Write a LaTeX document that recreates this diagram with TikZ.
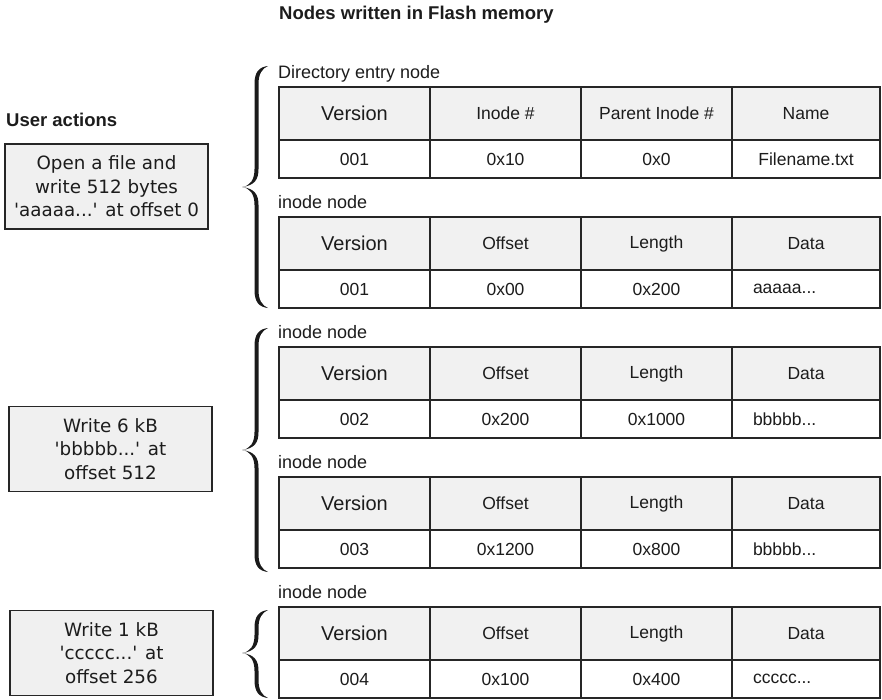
\documentclass[tikz,border=0pt]{standalone}
\usepackage{fontspec}
\setmainfont{Liberation Sans}
\newfontfamily\dejavu{DejaVu Sans}[Ligatures=TeXOff]
\definecolor{linecol}{HTML}{262626}
\definecolor{txtcol}{HTML}{1C1C1C}
\definecolor{hdrfill}{HTML}{F1F1F1}
\definecolor{boxfill}{HTML}{F0F0F0}
\definecolor{bracecol}{HTML}{1A1A1A}
\tikzset{
  cellbase/.style={draw=linecol, line width=1.2pt, inner sep=0pt, text=txtcol,
    font=\fontsize{17.5}{20}\selectfont},
  hcell/.style={cellbase, fill=hdrfill, minimum height=53},
  rcell/.style={cellbase, fill=white, minimum height=38},
  verfont/.style={font=\fontsize{20}{22}\selectfont},
  leftdata/.style={text width=106, align=left},
  ubox/.style={draw=linecol, line width=1.3pt, fill=boxfill, align=center, text=txtcol,
    font=\dejavu\fontsize{18.3}{23.5}\selectfont, minimum width=203, minimum height=85, inner sep=0pt},
  lab/.style={anchor=base west, inner sep=0pt, text=txtcol, font=\fontsize{18}{20}\selectfont},
  boldlab/.style={anchor=base west, inner sep=0pt, text=txtcol, font=\bfseries\fontsize{18.5}{20}\selectfont}
}
% header row: prefix, top, label text, h2, h3, h4
\newcommand\fhead[6]{%
  \node[lab] (#1lab) at (278,{#2-8.5}) {#3};
  \node[hcell, verfont, minimum width=151] (#1h1) at (354.5,{#2+26.5}) {Version};
  \node[hcell, minimum width=151] (#1h2) at (505.5,{#2+26.5}) {#4};
  \node[hcell, minimum width=151] (#1h3) at (656.5,{#2+26.5}) {#5};
  \node[hcell, minimum width=148] (#1h4) at (806,{#2+26.5}) {#6};
}
% value row: prefix, top, v1, v2, v3, v4, options of last cell
\newcommand\frow[7]{%
  \node[rcell, minimum width=151] (#1r1) at (354.5,{#2+72}) {#3};
  \node[rcell, minimum width=151] (#1r2) at (505.5,{#2+72}) {#4};
  \node[rcell, minimum width=151] (#1r3) at (656.5,{#2+72}) {#5};
  \node[rcell, minimum width=148, #7] (#1r4) at (806,{#2+72}) {#6};
}
% brace: top y, tip y, bottom y
\newcommand\fbrace[3]{%
  \fill[bracecol] (268,#1)
   .. controls (259,{#1+1}) and (254.5,{#1+6}) .. (254.5,{#1+18})
   -- (254.5,{#2-18})
   .. controls (254.5,{#2-7}) and (250,{#2-1}) .. (242,#2)
   .. controls (250,{#2+1}) and (254.5,{#2+7}) .. (254.5,{#2+18})
   -- (254.5,{#3-18})
   .. controls (254.5,{#3-6}) and (259,{#3-1}) .. (268,#3)
   .. controls (262,{#3-2.5}) and (258.5,{#3-8}) .. (258.5,{#3-18})
   -- (258.5,{#2+18})
   .. controls (258.5,{#2+8}) and (255,{#2+1.5}) .. (242,#2)
   .. controls (255,{#2-1.5}) and (258.5,{#2-8}) .. (258.5,{#2-18})
   -- (258.5,{#1+18})
   .. controls (258.5,{#1+8}) and (262,{#1+2.5}) .. (268,#1) -- cycle;
}
\begin{document}
\begin{tikzpicture}[x=1pt,y=-1pt]
\useasboundingbox (0,0) rectangle (882,699);

\node[boldlab] (title) at (279,19) {Nodes written in Flash memory};
\node[boldlab] (useract) at (6,126) {User actions};

\node[ubox] (act1) at (106.5,186.5) {Open a file and\\write 512 bytes\\'aaaaa...' at offset 0};
\node[ubox] (act2) at (110.5,449) {Write 6 kB\\'bbbbb...' at\\offset 512};
\node[ubox] (act3) at (111.5,653) {Write 1 kB\\'ccccc...' at\\offset 256};

\fbrace{66}{187}{308}
\fbrace{328}{450}{572}
\fbrace{610}{653}{698}

\fhead{ta}{87}{Directory entry node}{Inode \#}{Parent Inode \#}{Name}
\frow{ta}{87}{001}{0x10}{0x0}{Filename.txt}{}

\fhead{tb}{217}{inode node}{Offset}{Length}{Data}
\frow{tb}{217}{001}{0x00}{0x200}{aaaaa...}{leftdata}

\fhead{tc}{347}{inode node}{Offset}{Length}{Data}
\frow{tc}{347}{002}{0x200}{0x1000}{bbbbb...}{leftdata}

\fhead{td}{477}{inode node}{Offset}{Length}{Data}
\frow{td}{477}{003}{0x1200}{0x800}{bbbbb...}{leftdata}

\fhead{te}{607}{inode node}{Offset}{Length}{Data}
\frow{te}{607}{004}{0x100}{0x400}{ccccc...}{leftdata}
\end{tikzpicture}
\end{document}
